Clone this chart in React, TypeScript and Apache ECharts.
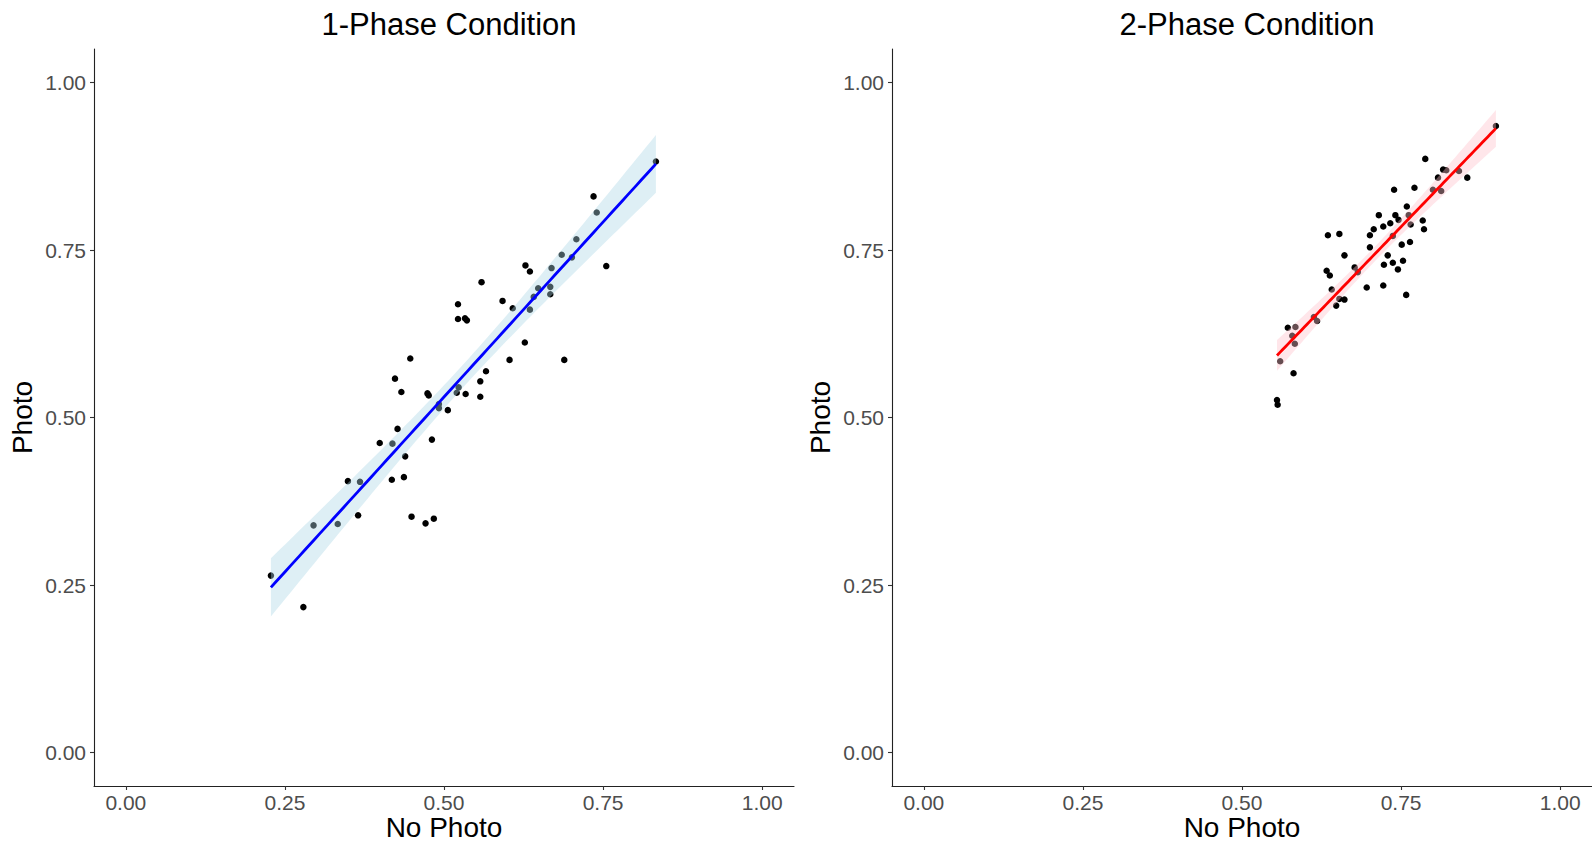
import React, { useEffect, useRef } from "react";
import * as echarts from "echarts";

// Panel titles
const panelTitles = ["1-Phase Condition", "2-Phase Condition"];
const xAxisTitle = "No Photo";
const yAxisTitle = "Photo";
const tickValues = [0, 0.25, 0.5, 0.75, 1];

// 1-Phase Condition: [No Photo, Photo]
const onePhaseX = [
  0.735, 0.740, 0.708, 0.685, 0.701, 0.755, 0.628, 0.635, 0.669, 0.559,
  0.648, 0.667, 0.667, 0.641, 0.592, 0.522, 0.608, 0.635, 0.522, 0.533,
  0.536, 0.447, 0.423, 0.433, 0.474, 0.476, 0.492, 0.492, 0.506, 0.427,
  0.399, 0.419, 0.481, 0.439, 0.349, 0.368, 0.418, 0.437, 0.365, 0.449,
  0.471, 0.484, 0.295, 0.333, 0.627, 0.603, 0.689, 0.566, 0.557, 0.557,
  0.523, 0.520, 0.534, 0.228, 0.279, 0.833,
];
const onePhaseY = [
  0.830, 0.806, 0.766, 0.743, 0.739, 0.726, 0.727, 0.718, 0.723, 0.702,
  0.693, 0.695, 0.684, 0.680, 0.674, 0.669, 0.663, 0.661, 0.647, 0.648,
  0.645, 0.588, 0.558, 0.538, 0.536, 0.533, 0.520, 0.514, 0.511, 0.483,
  0.462, 0.461, 0.467, 0.442, 0.405, 0.404, 0.407, 0.411, 0.354, 0.352,
  0.342, 0.349, 0.339, 0.341, 0.612, 0.586, 0.586, 0.569, 0.554, 0.531,
  0.545, 0.537, 0.535, 0.264, 0.217, 0.882,
];

// 2-Phase Condition: [No Photo, Photo]
const twoPhaseX = [
  0.899, 0.788, 0.816, 0.821, 0.841, 0.854, 0.808, 0.739, 0.771, 0.800,
  0.813, 0.759, 0.715, 0.741, 0.746, 0.733, 0.762, 0.784, 0.722, 0.707,
  0.701, 0.765, 0.786, 0.635, 0.653, 0.737, 0.751, 0.764, 0.701, 0.661,
  0.729, 0.723, 0.737, 0.753, 0.745, 0.677, 0.682, 0.633, 0.638, 0.696,
  0.722, 0.758, 0.641, 0.653, 0.661, 0.648, 0.613, 0.618, 0.572, 0.584,
  0.579, 0.583, 0.560, 0.581, 0.555, 0.556,
];
const twoPhaseY = [
  0.935, 0.886, 0.870, 0.869, 0.868, 0.858, 0.858, 0.840, 0.843, 0.840,
  0.838, 0.815, 0.802, 0.802, 0.795, 0.790, 0.802, 0.794, 0.785, 0.781,
  0.772, 0.788, 0.781, 0.772, 0.774, 0.771, 0.758, 0.762, 0.754, 0.742,
  0.742, 0.728, 0.731, 0.734, 0.721, 0.724, 0.717, 0.719, 0.712, 0.694,
  0.697, 0.683, 0.691, 0.677, 0.676, 0.667, 0.650, 0.644, 0.634, 0.635,
  0.622, 0.610, 0.584, 0.566, 0.526, 0.519,
];

const lineColors = ["#0000FF", "#FF0000"];
const bandColors = ["rgba(173,216,230,0.4)", "rgba(255,192,203,0.4)"];

function tQuantile975(df: number) {
  const z = 1.959964;
  return (
    z +
    (z ** 3 + z) / (4 * df) +
    (5 * z ** 5 + 16 * z ** 3 + 3 * z) / (96 * df * df) +
    (3 * z ** 7 + 19 * z ** 5 + 17 * z ** 3 - 15 * z) / (384 * df ** 3)
  );
}

function fitLm(xs: number[], ys: number[]) {
  const n = xs.length;
  const mx = xs.reduce((a, b) => a + b, 0) / n;
  const my = ys.reduce((a, b) => a + b, 0) / n;
  let sxx = 0, sxy = 0;
  for (let i = 0; i < n; i++) {
    sxx += (xs[i] - mx) ** 2;
    sxy += (xs[i] - mx) * (ys[i] - my);
  }
  const b = sxy / sxx;
  const a = my - b * mx;
  let sse = 0;
  for (let i = 0; i < n; i++) sse += (ys[i] - a - b * xs[i]) ** 2;
  const s = Math.sqrt(sse / (n - 2));
  const t = tQuantile975(n - 2);
  const xmin = Math.min(...xs);
  const xmax = Math.max(...xs);
  const steps = 80;
  const upper: number[][] = [];
  const lower: number[][] = [];
  const line: number[][] = [];
  for (let k = 0; k <= steps; k++) {
    const x = xmin + ((xmax - xmin) * k) / steps;
    const yhat = a + b * x;
    const se = s * Math.sqrt(1 / n + (x - mx) ** 2 / sxx);
    upper.push([x, yhat + t * se]);
    lower.push([x, yhat - t * se]);
    line.push([x, yhat]);
  }
  return { upper, lower, line };
}

const FONT = "'Liberation Sans', Arial, sans-serif";

export default function App() {
  const ref = useRef<HTMLDivElement>(null);
  useEffect(() => {
    if (!ref.current) return;
    const chart = echarts.init(ref.current, null, { renderer: "svg" });
    const panels = [
      { xs: onePhaseX, ys: onePhaseY },
      { xs: twoPhaseX, ys: twoPhaseY },
    ];
    const grids = [
      { left: 94, top: 49, width: 700, height: 737, outerBoundsMode: "none", containLabel: false },
      { left: 892, top: 49, width: 700, height: 737, outerBoundsMode: "none", containLabel: false },
    ];
    const fmt = (v: number) => v.toFixed(2);
    const axisCommon = {
      min: -0.05,
      max: 1.05,
      splitLine: { show: false },
      axisLine: { show: true, onZero: false, lineStyle: { color: "#222", width: 1.1 } },
      axisTick: { show: true, length: 4, customValues: tickValues, lineStyle: { color: "#333", width: 1.1 } },
      axisLabel: {
        customValues: tickValues,
        formatter: fmt,
        color: "#4D4D4D",
        fontSize: 21,
        fontFamily: FONT,
        margin: 8,
      },
      nameLocation: "middle",
      nameTextStyle: { color: "#000", fontSize: 28, fontFamily: FONT },
    };
    const xAxes = grids.map((_, i) => ({
      ...axisCommon,
      axisLabel: { ...axisCommon.axisLabel, margin: 6 },
      nameTextStyle: { ...axisCommon.nameTextStyle, fontSize: 28, padding: 0 },
      type: "value",
      gridIndex: i,
      name: xAxisTitle,
      nameMoveOverlap: false,
      nameGap: 27,
    }));
    const yAxes = grids.map((_, i) => ({
      ...axisCommon,
      type: "value",
      gridIndex: i,
      name: yAxisTitle,
      nameGap: 58,
    }));
    const series: any[] = [];
    panels.forEach((p, i) => {
      const fit = fitLm(p.xs, p.ys);
      series.push({
        type: "scatter",
        xAxisIndex: i,
        yAxisIndex: i,
        data: p.xs.map((x, k) => [x, p.ys[k]]),
        symbolSize: 6.5,
        itemStyle: { color: "#000", opacity: 1 },
        z: 2,
      });
      series.push({
        type: "custom",
        xAxisIndex: i,
        yAxisIndex: i,
        data: [[0.5, 0.5]],
        z: 3,
        silent: true,
        renderItem: (_params: any, api: any) => {
          const pts = fit.upper
            .map((q) => api.coord(q))
            .concat(fit.lower.slice().reverse().map((q) => api.coord(q)));
          return {
            type: "polygon",
            shape: { points: pts },
            style: { fill: bandColors[i], stroke: "none" },
          };
        },
      });
      series.push({
        type: "line",
        xAxisIndex: i,
        yAxisIndex: i,
        data: fit.line,
        showSymbol: false,
        symbol: "none",
        lineStyle: { color: lineColors[i], width: 2.8 },
        z: 4,
        silent: true,
      });
    });
    chart.setOption({
      animation: false,
      backgroundColor: "#fff",
      title: panelTitles.map((t, i) => ({
        text: t,
        left: i === 0 ? 444 : 1242,
        top: 4,
        textAlign: "center",
        textStyle: { color: "#000", fontSize: 31, fontWeight: "normal", fontFamily: FONT },
      })),
      grid: grids,
      xAxis: xAxes,
      yAxis: yAxes,
      series,
    });
    return () => chart.dispose();
  }, []);
  return (
    <div
      ref={ref}
      style={{ position: "fixed", left: 0, top: 0, width: 1592, height: 842, background: "#fff" }}
    />
  );
}
